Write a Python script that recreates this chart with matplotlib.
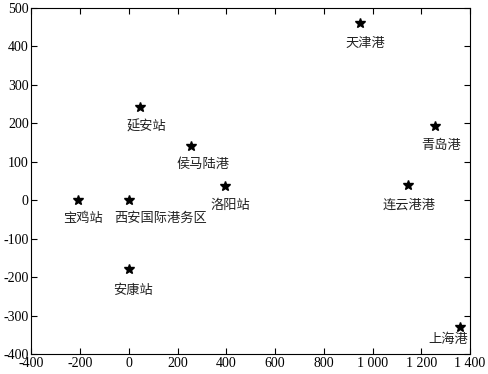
import matplotlib
matplotlib.use('Agg')
import matplotlib.pyplot as plt
from matplotlib.ticker import FuncFormatter, MultipleLocator

# node names and coordinates
names = ['宝鸡站', '西安国际港务区', '延安站', '侯马陆港', '洛阳站',
         '安康站', '天津港', '青岛港', '连云港港', '上海港']
xs = [-210, 0, 45, 255, 395, 0, 950, 1255, 1145, 1360]
ys = [0, 0, 242, 142, 37, -180, 460, 193, 40, -330]

# label offsets in pixels (dx, dy) relative to the marker
label_offsets = [(5, -18), (32, -18), (7, -20), (12, -19), (5, -19),
                 (4, -21), (5, -20), (6, -19), (1, -20), (-12, -12)]

plt.rcParams['font.family'] = ['Liberation Serif', 'Noto Sans CJK SC']
plt.rcParams['xtick.direction'] = 'in'
plt.rcParams['ytick.direction'] = 'in'

fig = plt.figure(figsize=(4.89, 3.74), dpi=100)
ax = fig.add_axes([31.5 / 489, 20 / 374, 438.5 / 489, 346 / 374])

ax.plot(xs, ys, linestyle='none', marker='*', color='black', markersize=7)

for name, x, y, (dx, dy) in zip(names, xs, ys, label_offsets):
    ax.annotate(name, (x, y), xytext=(dx, dy), textcoords='offset pixels',
                ha='center', va='center', fontsize=9.5,
                family=['Noto Sans CJK SC'], color='#222222')

ax.set_xlim(-400, 1400)
ax.set_ylim(-400, 500)
ax.xaxis.set_major_locator(MultipleLocator(200))
ax.yaxis.set_major_locator(MultipleLocator(100))


def thousands(v, pos):
    v = int(round(v))
    s = f'{abs(v):,}'.replace(',', ' ')
    return ('-' if v < 0 else '') + s


ax.xaxis.set_major_formatter(FuncFormatter(thousands))
ax.yaxis.set_major_formatter(FuncFormatter(thousands))
ax.tick_params(top=True, right=True, length=4, width=0.8, labelsize=10, pad=2)
for sp in ax.spines.values():
    sp.set_linewidth(0.8)

fig.savefig('out.png', dpi=100)
